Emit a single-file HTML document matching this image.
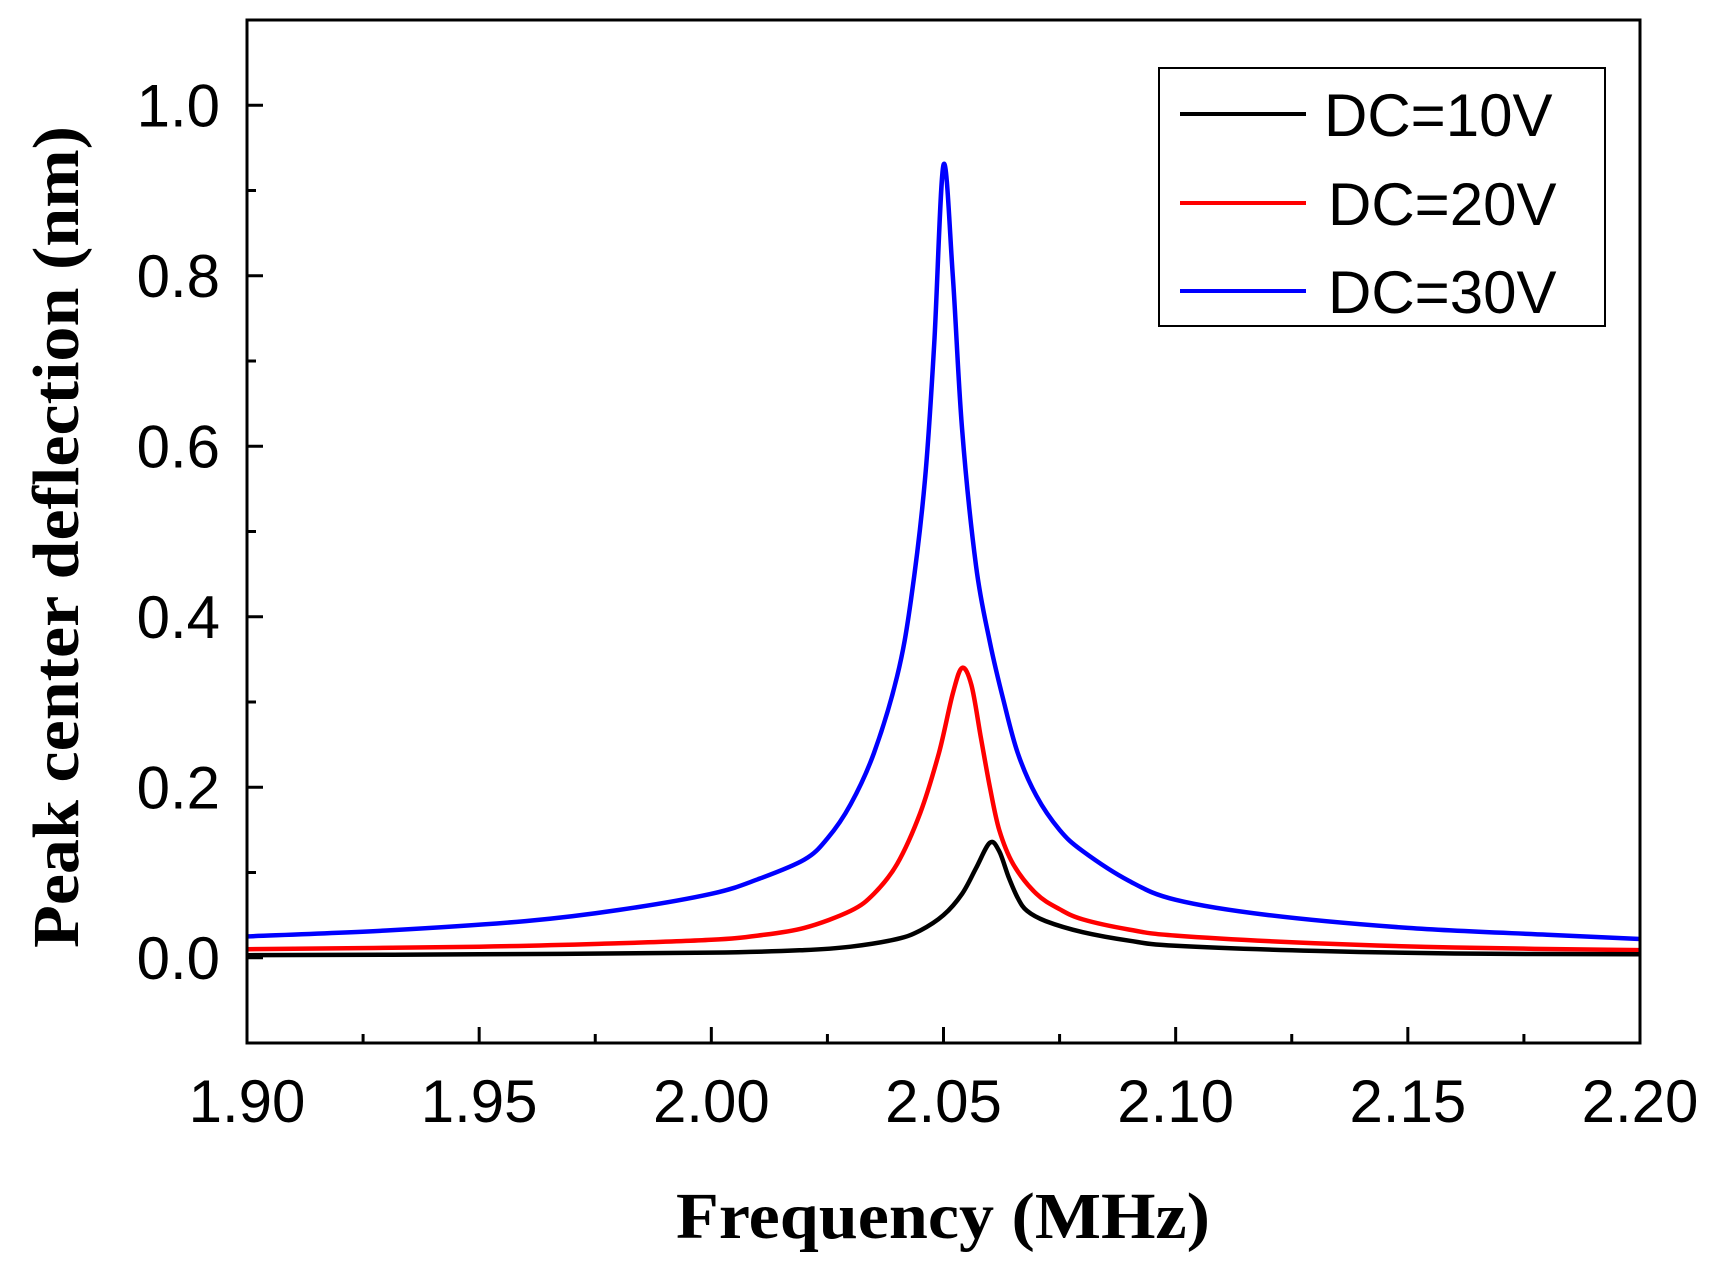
<!DOCTYPE html>
<html><head><meta charset="utf-8"><style>
html,body{margin:0;padding:0;background:#fff;}
svg{display:block;}
</style></head><body>
<svg id="chart" width="1716" height="1271" viewBox="0 0 1716 1271" xmlns="http://www.w3.org/2000/svg">
<g id="series"></g>
<g id="axes"></g>
<text x="943" y="1238" text-anchor="middle" font-family="Liberation Serif, serif" font-weight="bold" font-size="66" textLength="534" lengthAdjust="spacingAndGlyphs">Frequency (MHz)</text>
<text transform="translate(78,537) rotate(-90)" text-anchor="middle" font-family="Liberation Serif, serif" font-weight="bold" font-size="66" textLength="822" lengthAdjust="spacingAndGlyphs">Peak center deflection (nm)</text>
<g>
<rect x="1159" y="68" width="446" height="258" fill="#fff" stroke="#000" stroke-width="2"/>
<line x1="1180" y1="114" x2="1306" y2="114" stroke="#000" stroke-width="4"/>
<text x="1324" y="136" font-family="Liberation Sans, sans-serif" font-size="60">DC=10V</text>
<line x1="1180" y1="203" x2="1306" y2="203" stroke="#f00" stroke-width="4"/>
<text x="1328" y="225" font-family="Liberation Sans, sans-serif" font-size="60">DC=20V</text>
<line x1="1180" y1="291" x2="1306" y2="291" stroke="#00f" stroke-width="4"/>
<text x="1328" y="313" font-family="Liberation Sans, sans-serif" font-size="60">DC=30V</text>
</g>
</svg>
<script>
const xTicks = [1.90, 1.95, 2.00, 2.05, 2.10, 2.15, 2.20];
const xTickLabels = ["1.90", "1.95", "2.00", "2.05", "2.10", "2.15", "2.20"];
const yTicks = [0.0, 0.2, 0.4, 0.6, 0.8, 1.0];
const yTickLabels = ["0.0", "0.2", "0.4", "0.6", "0.8", "1.0"];
const freq10 = [1.90, 1.95, 2.00, 2.02, 2.03, 2.04, 2.045, 2.05, 2.054, 2.057, 2.060, 2.062, 2.064, 2.066, 2.068, 2.072, 2.08, 2.09, 2.10, 2.13, 2.16, 2.20];
const dc10 = [0.003, 0.004, 0.006, 0.009, 0.013, 0.022, 0.032, 0.05, 0.075, 0.105, 0.135, 0.125, 0.095, 0.07, 0.055, 0.043, 0.03, 0.02, 0.014, 0.008, 0.005, 0.004];
const freq20 = [1.90, 1.95, 1.98, 2.00, 2.01, 2.02, 2.03, 2.035, 2.04, 2.045, 2.049, 2.052, 2.054, 2.056, 2.058, 2.06, 2.062, 2.065, 2.07, 2.075, 2.08, 2.09, 2.10, 2.13, 2.16, 2.20];
const dc20 = [0.01, 0.013, 0.017, 0.021, 0.026, 0.035, 0.055, 0.075, 0.11, 0.17, 0.24, 0.31, 0.34, 0.32, 0.26, 0.20, 0.15, 0.11, 0.075, 0.057, 0.045, 0.033, 0.026, 0.017, 0.012, 0.009];
const freq30 = [1.90, 1.93, 1.96, 1.98, 2.00, 2.01, 2.02, 2.025, 2.03, 2.035, 2.04, 2.043, 2.046, 2.048, 2.050, 2.052, 2.054, 2.057, 2.06, 2.063, 2.066, 2.07, 2.075, 2.08, 2.09, 2.10, 2.12, 2.15, 2.18, 2.20];
const dc30 = [0.025, 0.032, 0.043, 0.056, 0.075, 0.092, 0.115, 0.14, 0.18, 0.24, 0.33, 0.42, 0.56, 0.72, 0.93, 0.80, 0.62, 0.46, 0.37, 0.30, 0.24, 0.19, 0.15, 0.125, 0.09, 0.068, 0.05, 0.035, 0.027, 0.022];

const L = 247, R = 1640, T = 20, B = 1043;
const X0 = 1.90, X1 = 2.20, Y0 = -0.1, Y1 = 1.1;
function sx(v){ return L + (v - X0) / (X1 - X0) * (R - L); }
function sy(v){ return B - (v - Y0) / (Y1 - Y0) * (B - T); }
const NS = "http://www.w3.org/2000/svg";
const axes = document.getElementById('axes');
const series = document.getElementById('series');
function mk(tag, attrs, parent){
  const e = document.createElementNS(NS, tag);
  for (const k in attrs) e.setAttribute(k, attrs[k]);
  parent.appendChild(e);
  return e;
}
const frame = mk('rect', {x:L, y:T, width:R-L, height:B-T, fill:'none', stroke:'#000', 'stroke-width':3}, axes);


xTicks.forEach((v, i) => {
  const t = mk('line', {x1:sx(v), x2:sx(v), y1:B, y2:B-16, stroke:'#000', 'stroke-width':3}, axes);
  
  
  if (i < xTicks.length - 1) {
    const m = mk('line', {x1:sx(v+0.025), x2:sx(v+0.025), y1:B, y2:B-9, stroke:'#000', 'stroke-width':3}, axes);
    
    
  }
  const lb = mk('text', {x:sx(v), y:1122, 'text-anchor':'middle', 'font-family':'Liberation Sans, sans-serif', 'font-size':60}, axes);
  lb.textContent = xTickLabels[i];
  
  
});
yTicks.forEach((v, i) => {
  const t = mk('line', {x1:L, x2:L+16, y1:sy(v), y2:sy(v), stroke:'#000', 'stroke-width':3}, axes);
  
  
  const lb = mk('text', {x:220, y:sy(v)+21, 'text-anchor':'end', 'font-family':'Liberation Sans, sans-serif', 'font-size':60}, axes);
  lb.textContent = yTickLabels[i];
  
  
});
[-0.1, 0.1, 0.3, 0.5, 0.7, 0.9].forEach(v => {
  const m = mk('line', {x1:L, x2:L+9, y1:sy(v), y2:sy(v), stroke:'#000', 'stroke-width':3}, axes);
  
  
});
function drawSeries(xs, ys, color, name){
  const P = xs.map((x, i) => [sx(x), sy(ys[i])]);
  let d = 'M' + P[0][0].toFixed(1) + ',' + P[0][1].toFixed(1);
  for (let i = 0; i < P.length - 1; i++) {
    const p0 = P[Math.max(i-1,0)], p1 = P[i], p2 = P[i+1], p3 = P[Math.min(i+2,P.length-1)];
    const c1x = p1[0] + (p2[0]-p0[0])/6, c1y = p1[1] + (p2[1]-p0[1])/6;
    const c2x = p2[0] - (p3[0]-p1[0])/6, c2y = p2[1] - (p3[1]-p1[1])/6;
    d += ' C' + c1x.toFixed(1) + ',' + c1y.toFixed(1) + ' ' + c2x.toFixed(1) + ',' + c2y.toFixed(1) + ' ' + p2[0].toFixed(1) + ',' + p2[1].toFixed(1);
  }
  const p = mk('path', {d:d, fill:'none', stroke:color, 'stroke-width':4.5, 'stroke-linejoin':'round'}, series);
  
  
}
drawSeries(freq30, dc30, '#00f', 'series-dc-30v');
drawSeries(freq20, dc20, '#f00', 'series-dc-20v');
drawSeries(freq10, dc10, '#000', 'series-dc-10v');
</script>
</body></html>
